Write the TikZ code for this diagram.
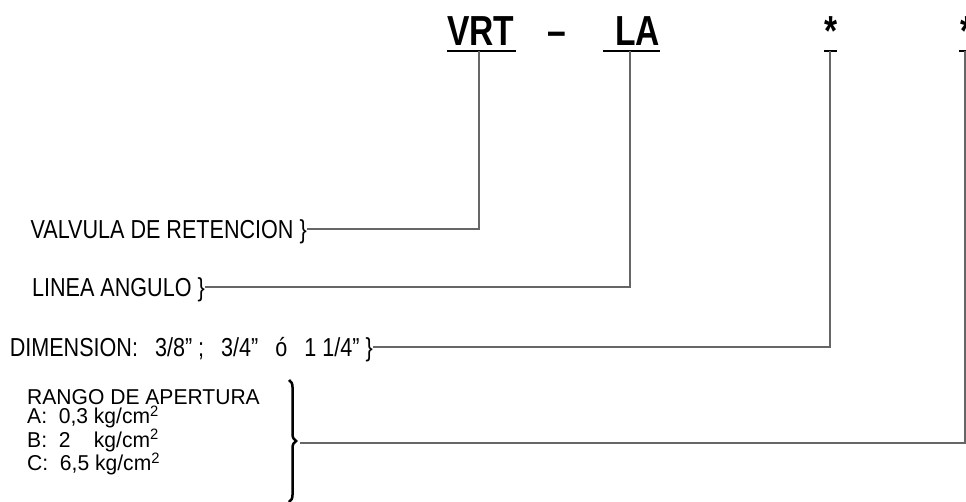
\documentclass[tikz,border=0pt]{standalone}
\usepackage{fontspec}
\usepackage{tikz}
\usetikzlibrary{decorations.pathreplacing}
\newfontfamily\etiqfont[FakeStretch=0.83]{Liberation Sans}
\newfontfamily\rangofont[FakeStretch=0.98]{Liberation Sans}
\newfontfamily\codfont[FakeStretch=0.80]{Liberation Sans}

\begin{document}
\begin{tikzpicture}[x=1pt,y=-1pt,
    conn/.style={draw=black!60,line width=1.1pt},
    subr/.style={line width=2pt},
    codigo/.style={font=\codfont\bfseries\fontsize{42}{42}\selectfont,inner sep=0pt,anchor=base},
    etiq/.style={font=\etiqfont\fontsize{26}{26}\selectfont,inner sep=0pt,
      text height=18.6pt,text depth=0pt,anchor=east}]
        \useasboundingbox (0,0) rectangle (966,502);
        \newcommand{\hueco}{\hspace{17pt}}

        % codigo
        \node[codigo,anchor=base west] (vrt) at (447,46) {VRT};
        \node[codigo] (guion) at (557,46) {\textendash};
        \node[codigo,anchor=base west] (la) at (615,46) {LA};
        \node[codigo] (ast1) at (831,46) {*};
        \node[codigo] (ast2) at (967,46) {*};

        % subrayados
        \coordinate (vrtu) at (479,51);
        \coordinate (lau) at (630,51);
        \coordinate (ast1u) at (830,51);
        \coordinate (ast2u) at (965,51);
        \draw[subr] (447,51) -- (516,51);
        \draw[subr] (603,51) -- (660,51);
        \draw[subr] (824,51) -- (837,51);
        \draw[subr] (959,51) -- (971,51);

        % etiquetas
        \node[etiq] (valv) at (307,229) {VALVULA DE RETENCION \}};
        \node[etiq] (linea) at (205,287) {LINEA ANGULO \}};
        \node[etiq] (dim) at (373,347) {DIMENSION:\hueco 3/8”\ ;\hueco 3/4”\hueco ó\hueco 1 1/4” \}};

        % rango de apertura
        \node[font=\rangofont\fontsize{21.5}{19.5}\selectfont,inner sep=0pt,anchor=north west,align=left] (rango) at (27,389)
          {RANGO DE APERTURA\\
           A:\ \ 0,3 kg/cm\textsuperscript{2}\\
           B:\ \ 2\ \ \ \ kg/cm\textsuperscript{2}\\
           C:\ \ 6,5 kg/cm\textsuperscript{2}};
        \draw[decorate,decoration={brace,amplitude=7pt},line width=2.5pt] (289,380) -- (289,502);
        \coordinate (rbrace) at (300,443);

        % lineas
        \draw[conn] (valv.east) -| (vrtu);
        \draw[conn] (linea.east) -| (lau);
        \draw[conn] (dim.east) -| (ast1u);
        \draw[conn] (rbrace) -| (ast2u);
\end{tikzpicture}
\end{document}
